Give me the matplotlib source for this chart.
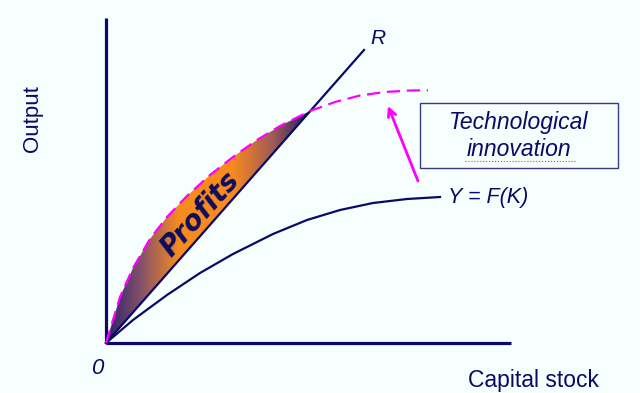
import numpy as np
import matplotlib
matplotlib.use("Agg")
import matplotlib.pyplot as plt
from matplotlib.colors import LinearSegmentedColormap
from matplotlib.patches import Polygon, Rectangle

# ---- data ----
# Shifted production function (dashed, after technological innovation)
K_new = [0, 1.4, 2.7, 4.4, 6.1, 8.1, 10.4, 12.7, 15.1, 17.4, 19.4, 20.4, 22.9, 25.4, 27.9, 30.4, 32.2]
Y_new = [0, 4.6, 7.5, 10.4, 12.6, 14.7, 16.8, 18.6, 20.3, 21.7, 22.7, 23.2, 24.1, 24.75, 25.1, 25.25, 25.27]
# Original production function Y = F(K)
K_old = [0, 2.7, 6.1, 9.4, 12.7, 16.7, 20.1, 23.4, 26.7, 30.1, 33.4]
Y_old = [0, 2.3, 4.8, 7.0, 8.9, 10.9, 12.3, 13.3, 14.0, 14.4, 14.6]
# Ray R
K_R = [0, 25.8]
Y_R = [0, 29.3]
# Profit region ends where the dashed curve meets R
K_cross = 20.4
# Axes extents
K_axis_max = 40.5
Y_axis_max = 32.5

navy = '#0a0a66'
bg = '#F7FEFE'
magenta = '#FF00FF'

fig = plt.figure(figsize=(6.4, 3.93), dpi=100, facecolor=bg)
ax = fig.add_axes([0, 0, 1, 1])
ax.set_facecolor(bg)
ax.set_xlim(-10.6, 53.4)
ax.set_ylim(-5.0, 34.3)
ax.axis('off')

# Profit region polygon: dashed curve up to crossing, back along R to origin
kn = np.array(K_new); yn = np.array(Y_new)
mask = kn <= K_cross + 1e-9
poly_k = list(kn[mask]) + [0]
poly_y = list(yn[mask]) + [0]
poly = Polygon(np.column_stack([poly_k, poly_y]), closed=True, facecolor='none', edgecolor='none')
ax.add_patch(poly)
cmap = LinearSegmentedColormap.from_list('prof', [(0.0, '#2a2070'), (0.18, '#8a5468'),
                                                  (0.36, '#f98c1e'), (0.62, '#f88a20'),
                                                  (0.82, '#a05a55'), (1.0, '#1c1a66')])
grad = np.linspace(0, 1, 256).reshape(1, -1)
im = ax.imshow(grad, extent=[0, K_cross, 0, max(poly_y)], origin='lower', aspect='auto',
               cmap=cmap, zorder=1, interpolation='bilinear')
im.set_clip_path(poly)

# Axes
ax.plot([0, 0], [0, Y_axis_max], color=navy, lw=2.3, solid_capstyle='butt', zorder=3)
ax.plot([0, K_axis_max], [0, 0], color=navy, lw=2.3, solid_capstyle='butt', zorder=3)

# Curves
ax.plot(K_R, Y_R, color=navy, lw=1.6, zorder=4)
ax.plot(K_old, Y_old, color=navy, lw=1.6, zorder=4, solid_joinstyle='round')
ax.plot(K_new, Y_new, color=magenta, lw=1.6, dashes=(6, 3), zorder=5)

# Labels
txt_font = 'Liberation Sans'
ax.text(9.4, 12.9, 'Profits', rotation=48, ha='center', va='center', color='#0d0d5e',
        fontsize=20, fontweight='bold', fontstyle='italic', family='DejaVu Sans', zorder=6)
ax.text(27.2, 30.5, 'R', fontsize=15, fontstyle='italic', color=navy, family=txt_font,
        ha='center', va='center')
ax.text(34.2, 14.6, 'Y = F(K)', fontsize=15.5, fontstyle='italic', color=navy, family=txt_font,
        ha='left', va='center')
ax.text(-0.9, -2.5, '0', fontsize=16, fontstyle='italic', color=navy, family=txt_font,
        ha='center', va='center')
ax.text(36.2, -3.7, 'Capital stock', fontsize=16.5, color=navy, family=txt_font,
        ha='left', va='center')
ax.text(-7.4, 22.4, 'Output', fontsize=16, color=navy, family=txt_font, rotation=90,
        ha='center', va='center')

# Box with "Technological innovation"
ax.add_patch(Rectangle((31.4, 17.5), 19.8, 6.5, facecolor=bg, edgecolor='#3a3a80', lw=1.0, zorder=6))
ax.text(41.3, 22.1, 'Technological', fontsize=16.5, fontstyle='italic', color=navy, family=txt_font,
        ha='center', va='center', zorder=7)
ax.text(41.3, 19.3, 'innovation', fontsize=16.5, fontstyle='italic', color=navy, family=txt_font,
        ha='center', va='center', zorder=7)
ax.plot([35.9, 46.9], [18.25, 18.25], color='#e04040', lw=0.8, ls=':', zorder=7)

# Arrow
ax.annotate('', xy=(28.2, 23.7), xytext=(31.2, 16.2),
            arrowprops=dict(arrowstyle='->', color=magenta, lw=2, mutation_scale=14,
                            shrinkA=0, shrinkB=0), zorder=6)

fig.savefig('out.png', dpi=100, facecolor=bg)
